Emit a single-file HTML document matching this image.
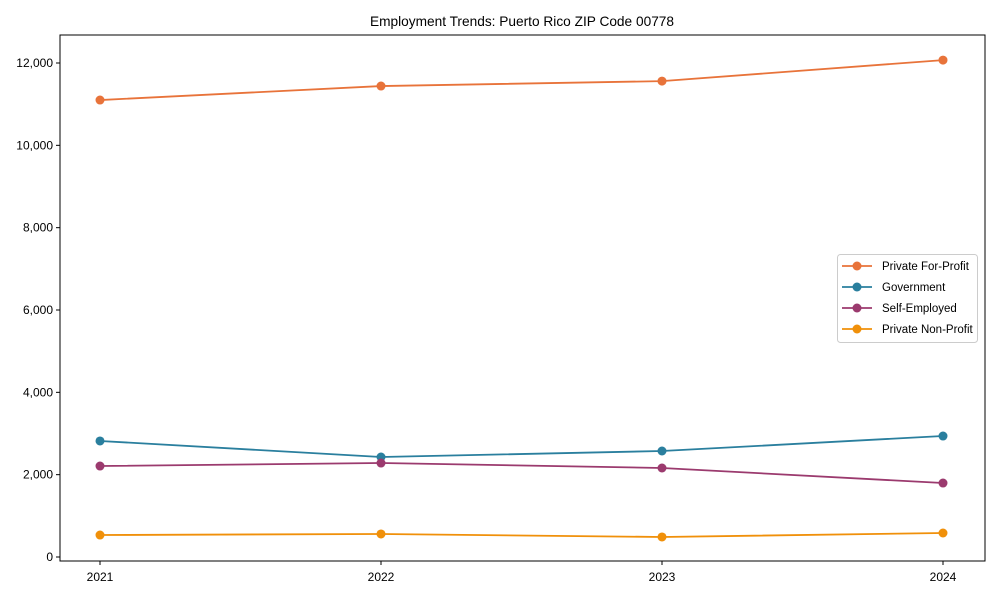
<!DOCTYPE html>
<html><head><meta charset="utf-8"><style>
body{margin:0;background:#fff}
text{font-family:"Liberation Sans",sans-serif;fill:#000}
</style></head><body>
<svg id="chart" width="1000" height="600">
<text x="522" y="26" font-size="13.7" text-anchor="middle">Employment Trends: Puerto Rico ZIP Code 00778</text>
<g id="axes"></g><g id="series"></g><g id="legend"></g>
</svg>
<script>
const years = ["2021","2022","2023","2024"];
const forProfit = [11100, 11440, 11560, 12070];
const government = [2818, 2429, 2575, 2939];
const selfEmployed = [2210, 2283, 2162, 1797];
const nonProfit = [534, 559, 486, 583];
const yTicks = [0, 2000, 4000, 6000, 8000, 10000, 12000];
const seriesNames = ["Private For-Profit","Government","Self-Employed","Private Non-Profit"];
const seriesColors = ["#e8733a","#2a7f9e","#9b3a6e","#f0900a"];
const seriesData = [forProfit, government, selfEmployed, nonProfit];

const NS="http://www.w3.org/2000/svg";
const L=60,R=985,T=35,B=561;
const x=i=>100+i*(943-100)/(years.length-1);
const y=v=>557-v*(557-63)/12000;
function mk(tag,attrs,parent){const e=document.createElementNS(NS,tag);for(const k in attrs)e.setAttribute(k,attrs[k]);parent.appendChild(e);return e;}
const axes=document.getElementById('axes');
const frame=mk('rect',{x:L,y:T,width:R-L,height:B-T,fill:'none',stroke:'#000','stroke-width':1},axes);


yTicks.forEach(v=>{
  const t=mk('line',{x1:L-4,x2:L,y1:y(v),y2:y(v),stroke:'#000'},axes);
  
  
  const lb=mk('text',{x:L-7,y:y(v)+4,'font-size':12,'text-anchor':'end'},axes);
  lb.textContent=v.toLocaleString('en-US');
  
  
});
years.forEach((yr,i)=>{
  const t=mk('line',{x1:x(i),x2:x(i),y1:B,y2:B+4,stroke:'#000'},axes);
  
  
  const lb=mk('text',{x:x(i),y:B+20,'font-size':12,'text-anchor':'middle'},axes);
  lb.textContent=yr;
  
  
});
const sg=document.getElementById('series');
seriesData.forEach((d,s)=>{
  const g=mk('g',{},sg);
  
  
  const p=mk('polyline',{points:d.map((v,i)=>x(i)+','+y(v)).join(' '),fill:'none',stroke:seriesColors[s],'stroke-width':1.8},g);
  
  
  d.forEach((v,i)=>{
    const c=mk('circle',{cx:x(i),cy:y(v),r:4.5,fill:seriesColors[s]},g);
    
    
  });
});
const lg=document.getElementById('legend');
const box=mk('rect',{x:837.5,y:254.5,width:140,height:88,rx:3,fill:'#fff',stroke:'#ccc'},lg);


seriesNames.forEach((n,s)=>{
  const yy=266+s*21;
  const g=mk('g',{},lg);
  
  
  mk('line',{x1:842,x2:872,y1:yy,y2:yy,stroke:seriesColors[s],'stroke-width':1.8},g);
  mk('circle',{cx:857,cy:yy,r:4.5,fill:seriesColors[s]},g);
  const t=mk('text',{x:882,y:yy+4,'font-size':11.5},g);
  t.textContent=n;
});
</script>
</body></html>
